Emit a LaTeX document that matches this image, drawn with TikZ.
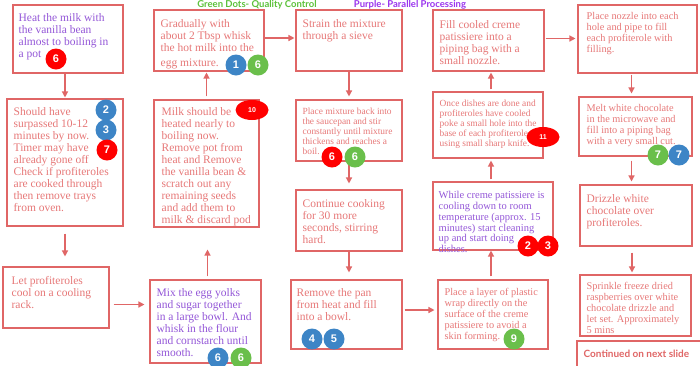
\documentclass[tikz,border=0pt]{standalone}
\usepackage{fontspec}
\setmainfont{Liberation Serif}
\newfontfamily\numfont{Liberation Sans}
\newfontfamily\labfont{Lato}
\usetikzlibrary{arrows.meta,shapes.geometric,calc}
\definecolor{boxred}{HTML}{E06666}
\definecolor{txtred}{HTML}{E77878}
\definecolor{txtpur}{HTML}{9457D8}
\definecolor{bred}{HTML}{FF0000}
\definecolor{bblue}{HTML}{3D85C6}
\definecolor{bgreen}{HTML}{6ABF4B}
\definecolor{labgreen}{HTML}{5CC13A}
\definecolor{labpur}{HTML}{9933EE}
\newcommand\mkbox[5]{%
  \node[stepbox, minimum width={#4-#2}, minimum height={#5-#3}] (#1) at ({(#2+#4)/2},{(#3+#5)/2}) {};%
}
\tikzset{
  stepbox/.style={draw=boxred, line width=1.1pt, inner sep=0pt, rectangle},
  big/.style={font=\fontsize{11.5}{12}\selectfont},
  mid/.style={font=\fontsize{10.3}{11}\selectfont},
  sml/.style={font=\fontsize{9.4}{10}\selectfont},
  steptext/.style={anchor=north west, inner sep=0pt, align=left, text=txtred},
  purp/.style={text=txtpur},
  arr/.style={draw=boxred, line width=1.3pt, -{Triangle[length=6pt,width=6pt]}},
  badge/.style={circle, minimum size=21pt, inner sep=0pt, text=white, font=\numfont\bfseries\fontsize{11}{11}\selectfont},
  oval/.style={ellipse, fill=bred, minimum width=33pt, minimum height=20pt, inner sep=0pt, text=white, font=\numfont\bfseries\fontsize{7}{7}\selectfont},
  toplab/.style={anchor=base, inner sep=0pt, font=\labfont\bfseries\fontsize{9.5}{9.5}\selectfont},
}
\begin{document}
\begin{tikzpicture}[x=1pt,y=-1pt]
\useasboundingbox (0,0) rectangle (700,365);
\clip (0,0) rectangle (700,365);
\fill[white] (0,0) rectangle (700,365);

% top legend
\node[toplab, text=labgreen] (lg) at (257,7.5) {Green Dots- Quality Control};
\node[toplab, text=labpur] (lp) at (410,7.5) {Purple- Parallel Processing};

% boxes
\mkbox{A}{13}{5}{123}{73}
\mkbox{B}{7}{99}{123}{226}
\mkbox{C}{3}{267}{109}{328}
\mkbox{D}{150}{280}{261}{363}
\mkbox{E}{154}{100}{259}{227}
\mkbox{F}{154}{10}{264}{71}
\mkbox{G}{296}{10}{402}{71}
\mkbox{H}{296}{100}{402}{161}
\mkbox{I}{296}{190}{402}{251}
\mkbox{J}{291}{280}{402}{349}
\mkbox{K}{438}{280}{548}{349}
\mkbox{L}{433}{182}{553}{250}
\mkbox{M}{433}{92}{543}{158}
\mkbox{N}{433}{10}{544}{71}
\mkbox{O}{578}{5}{697}{73}
\mkbox{P}{579}{97}{692}{156}
\mkbox{Q}{580}{185}{692}{246}
\mkbox{R}{580}{275}{691}{336}
\mkbox{S}{577}{341}{712}{375}

% texts
\node[steptext,big,purp] (At) at ([xshift=6pt,yshift=-9pt]A.north west) {Heat the milk with\\the vanilla bean\\almost to boiling in\\a pot};
\node[steptext,big] (Bt) at ([xshift=7pt,yshift=-9pt]B.north west) {Should have\\surpassed 10-12\\minutes by now.\\Timer may have\\already gone off\\Check if profiteroles\\are cooked through\\then remove trays\\from oven.};
\node[steptext,big] (Ct) at ([xshift=9pt,yshift=-10pt]C.north west) {Let profiteroles\\cool on a cooling\\rack.};
\node[steptext,big,purp] (Dt) at ([xshift=7pt,yshift=-9pt]D.north west) {Mix the egg yolks\\and sugar together\\in a large bowl. And\\whisk in the flour\\and cornstarch until\\smooth.};
\node[steptext,big] (Et) at ([xshift=8pt,yshift=-8pt]E.north west) {Milk should be\\heated nearly to\\boiling now.\\Remove pot from\\heat and Remove\\the vanilla bean \&\\scratch out any\\remaining seeds\\and add them to\\milk \& discard pod};
\node[steptext,big] (Ft) at ([xshift=7pt,yshift=-10pt]F.north west) {Gradually with\\about 2 Tbsp whisk\\the hot milk into the\\[3pt]egg mixture.};
\node[steptext,big] (Gt) at ([xshift=7pt,yshift=-10pt]G.north west) {Strain the mixture\\through a sieve};
\node[steptext,sml] (Ht) at ([xshift=7pt,yshift=-8pt]H.north west) {Place mixture back into\\the saucepan and stir\\constantly until mixture\\thickens and reaches a\\boil.};
\node[steptext,big] (It) at ([xshift=7pt,yshift=-10pt]I.north west) {Continue cooking\\for 30 more\\seconds, stirring\\hard.};
\node[steptext,big] (Jt) at ([xshift=6pt,yshift=-9pt]J.north west) {Remove the pan\\from heat and fill\\into a bowl.};
\node[steptext,mid] (Kt) at ([xshift=7pt,yshift=-9pt]K.north west) {Place a layer of plastic\\wrap directly on the\\surface of the creme\\patissiere to avoid a\\skin forming.};
\node[steptext,mid,purp,font=\fontsize{10.5}{10.7}\selectfont] (Lt) at ([xshift=6pt,yshift=-10pt]L.north west) {While creme patissiere is\\cooling down to room\\temperature (approx. 15\\minutes) start cleaning\\up and start doing\\dishes.};
\node[steptext,sml] (Mt) at ([xshift=7pt,yshift=-8pt]M.north west) {Once dishes are done and\\profiteroles have cooled\\poke a small hole into the\\base of each profiterole\\using small sharp knife.};
\node[steptext,big] (Nt) at ([xshift=7pt,yshift=-11pt]N.north west) {Fill cooled creme\\patissiere into a\\piping bag with a\\small nozzle.};
\node[steptext,mid] (Ot) at ([xshift=9pt,yshift=-8pt]O.north west) {Place nozzle into each\\hole and pipe to fill\\each profiterole with\\filling.};
\node[steptext,mid] (Pt) at ([xshift=8pt,yshift=-8pt]P.north west) {Melt white chocolate\\in the microwave and\\fill into a piping bag\\with a very small cut.};
\node[steptext,big] (Qt) at ([xshift=7pt,yshift=-10pt]Q.north west) {Drizzle white\\chocolate over\\profiteroles.};
\node[steptext,mid] (Rt) at ([xshift=7pt,yshift=-8pt]R.north west) {Sprinkle freeze dried\\raspberries over white\\chocolate drizzle and\\let set. Approximately\\5 mins};
\node[anchor=base west, inner sep=0pt, text=boxred, font=\labfont\bfseries\fontsize{10}{10}\selectfont] (St) at ([xshift=7pt,yshift=-17pt]S.north west) {Continued on next slide};

% arrows
\draw[arr, shorten >=1pt] (B.north |- A.south) -- (B.north);
\draw[arr, shorten <=7pt, shorten >=10pt] (B.south) -- (B.south |- C.north);
\draw[arr, shorten <=4pt, shorten >=5pt] ([yshift=-7pt]C.east) -- ([yshift=-7pt]C.east -| D.west);
\draw[arr, shorten <=3pt, shorten >=22pt] ([xshift=2pt]D.north) -- ([xshift=2pt]D.north |- E.south);
\draw[arr, shorten <=3pt, shorten >=1pt] (E.north) -- (E.north |- F.south);
\draw[arr, shorten >=1pt] ([yshift=2.5pt]F.east) -- ([yshift=2.5pt]F.east -| G.west);
\draw[arr, shorten >=3pt] (G.south) -- (H.north);
\draw[arr, shorten <=2pt, shorten >=6pt] (H.south) -- (I.north);
\draw[arr, shorten >=7pt] (I.south) -- (I.south |- J.north);
\draw[arr, shorten <=2pt, shorten >=3pt] ([yshift=4.5pt]J.east) -- ([yshift=4.5pt]J.east -| K.west);
\draw[arr, shorten <=3pt] ([xshift=-2pt]K.north) -- ([xshift=-2pt]K.north |- L.south);
\draw[arr, shorten <=2pt, shorten >=2pt] ([xshift=-2pt]L.north) -- ([xshift=-2pt]L.north |- M.south);
\draw[arr, shorten <=2pt, shorten >=1pt] ([xshift=3pt]M.north) -- ([xshift=3pt]M.north |- N.south);
\draw[arr, shorten <=1pt, shorten >=2pt] ([yshift=2pt]N.east) -- ([yshift=2pt]N.east -| O.west);
\draw[arr, shorten <=1pt, shorten >=3pt] ([xshift=-4pt]P.north |- O.south) -- ([xshift=-4pt]P.north);
\draw[arr, shorten <=4pt, shorten >=3pt] ([xshift=-4pt]P.south) -- ([xshift=-4pt]P.south |- Q.north);
\draw[arr, shorten <=6pt, shorten >=2pt] ([xshift=-4pt]Q.south) -- ([xshift=-4pt]Q.south |- R.north);

% badges
\node[badge, fill=bred] (a6) at (56,59) {6};
\node[badge, fill=bblue] (b3) at (106,130) {3};
\node[badge, fill=bblue] (b2) at (106,110) {2};
\node[badge, fill=bred] (b7) at (107,150) {7};
\node[oval] (e10) at (252,110) {10};
\node[badge, fill=bblue] (f1) at (236,65) {1};
\node[badge, fill=bgreen] (f6) at (258,65) {6};
\node[badge, fill=bred] (h6r) at (332,157) {6};
\node[badge, fill=bgreen] (h6g) at (355,157) {6};
\node[badge, fill=bblue] (j4) at (312,339) {4};
\node[badge, fill=bblue] (j5) at (334,339) {5};
\node[badge, fill=bgreen] (k9) at (514,339) {9};
\node[badge, fill=bred] (l2) at (528,246) {2};
\node[badge, fill=bred] (l3) at (548,246) {3};
\node[oval] (m11) at (543,137) {11};
\node[badge, fill=bgreen] (p7g) at (658,155) {7};
\node[badge, fill=bblue] (p7b) at (679,155) {7};
\node[badge, fill=bblue] (d6b) at (218,358) {6};
\node[badge, fill=bgreen] (d6g) at (241,358) {6};
\end{tikzpicture}
\end{document}
